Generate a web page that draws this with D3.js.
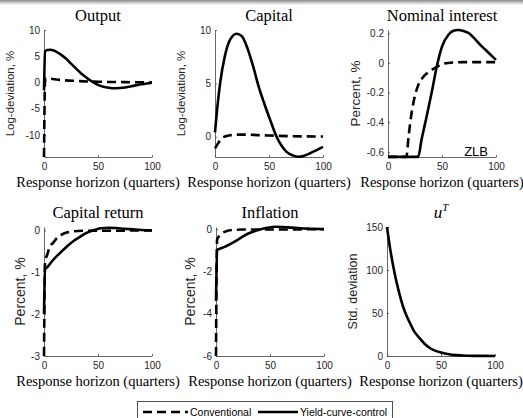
<!DOCTYPE html>
<html>
<head>
<meta charset="utf-8">
<script src="https://cdn.jsdelivr.net/npm/d3@7"></script>
<style>
  html, body { margin: 0; padding: 0; background: #fff; }
  svg { display: block; }
</style>
</head>
<body>
<svg id="chart" width="523" height="418"></svg>
<script>
// ---------- data ----------
const xTicks = [0, 50, 100];

// Output
const outYcc_t  = [0,1,3,6,9,12,15,20,25,30,35,40,45,50,55,60,65,70,75,80,85,90,95,100];
const outYcc    = [-1.5,5.9,6.2,6.25,6.1,5.8,5.4,4.6,3.6,2.6,1.6,0.8,0.1,-0.45,-0.8,-1.0,-1.1,-1.05,-0.95,-0.75,-0.55,-0.35,-0.18,-0.05];
const outConv_t = [0,1,2,4,7,10,15,20,30,40,50,60,70,80,90,100];
const outConv   = [-14.2,0.3,0.8,0.8,0.7,0.6,0.5,0.4,0.3,0.2,0.15,0.1,0.1,0.05,0.05,0.0];
const outTicks  = [-10,-5,0,5,10];

// Capital
const capYcc_t  = [0,2,5,9,14,20,25,30,35,41,46,51,57,62,66,72,77,82,88,94,100];
const capYcc    = [0.4,2.6,5.2,7.5,9.1,9.65,9.4,8.3,6.7,4.5,3.0,1.6,0.0,-0.9,-1.4,-1.75,-1.88,-1.8,-1.55,-1.25,-0.95];
const capConv_t = [0,3,6,10,15,20,30,40,55,70,85,100];
const capConv   = [-1.1,-0.6,-0.15,0.05,0.15,0.2,0.2,0.15,0.1,0.05,0.03,0.02];
const capTicks  = [0,5,10];

// Nominal interest
const nomYcc_t  = [0,28,31,34,37,41,45,50,56,60,65,70,75,80,85,90,95,100];
const nomYcc    = [-0.634,-0.634,-0.52,-0.42,-0.32,-0.18,-0.03,0.11,0.19,0.215,0.222,0.215,0.2,0.165,0.125,0.09,0.055,0.02];
const nomConv_t = [0,17,19,22,25,28,32,37,42,47,52,60,70,100];
const nomConv   = [-0.634,-0.634,-0.5,-0.33,-0.22,-0.15,-0.1,-0.065,-0.04,-0.02,-0.005,0.003,0.005,0.005];
const nomTicks  = [-0.6,-0.4,-0.2,0,0.2];

// Capital return
const crYcc_t   = [0,1,3,8,14,21,27,33,38,43,48,53,60,67,74,82,90,100];
const crYcc     = [-2.0,-0.92,-0.88,-0.72,-0.56,-0.39,-0.26,-0.16,-0.08,-0.02,0.02,0.05,0.06,0.055,0.04,0.025,0.01,0.0];
const crConv_t  = [0,1,3,5,9,13,18,23,28,35,45,60,80,100];
const crConv    = [-3,-0.75,-0.58,-0.42,-0.28,-0.16,-0.08,-0.04,-0.02,-0.01,-0.01,-0.01,-0.005,0];
const crTicks   = [-3,-2,-1,0];

// Inflation
const infYcc_t  = [0,1,4,8,12,16,21,25,30,35,40,44,49,55,62,70,78,87,100];
const infYcc    = [-3.4,-0.98,-0.92,-0.84,-0.74,-0.63,-0.48,-0.34,-0.21,-0.11,-0.03,0.03,0.08,0.11,0.1,0.07,0.04,0.02,0.0];
const infConv_t = [0,1,3,6,10,15,25,40,60,80,100];
const infConv   = [-6,-0.5,-0.32,-0.18,-0.09,-0.04,-0.02,-0.02,-0.02,-0.01,-0.005];
const infTicks  = [-6,-4,-2,0];

// u^T
const uT_t      = [0,3,6,9,12,15,18,21,25,30,35,40,45,50,60,70,80,90,100];
const uT        = [150,124,103,85,70,57,47,39,29,21,14,9,6,4,1.5,0.6,0.2,0.1,0];
const uTicks    = [0,50,100,150];

const legendLabels = ["Conventional", "Yield-curve-control"];

// ---------- layout ----------
const svg = d3.select("#chart");
const W = 108;
const panels = [
  {title:"Output", ylab:"Log-deviation, %", yls:11.5, x0:44, top:30, bot:157, dom:[-14.2,10], ticks:outTicks,
   ycc:[outYcc_t,outYcc], conv:[outConv_t,outConv], ylx:10},
  {title:"Capital", ylab:"Log-deviation, %", yls:11.5, x0:215, top:30, bot:157, dom:[-1.9,10], ticks:capTicks,
   ycc:[capYcc_t,capYcc], conv:[capConv_t,capConv], ylx:181},
  {title:"Nominal interest", ylab:"Percent, %", yls:13.5, x0:388, top:30, bot:157, dom:[-0.635,0.222], ticks:nomTicks,
   ycc:[nomYcc_t,nomYcc], conv:[nomConv_t,nomConv], ylx:355, zlb:true},
  {title:"Capital return", ylab:"Percent, %", yls:14, x0:44, top:227, bot:356, dom:[-3,0.08], ticks:crTicks,
   ycc:[crYcc_t,crYcc], conv:[crConv_t,crConv], ylx:20},
  {title:"Inflation", ylab:"Percent, %", yls:14, x0:216, top:227, bot:356, dom:[-6,0.1], ticks:infTicks,
   ycc:[infYcc_t,infYcc], conv:[infConv_t,infConv], ylx:190},
  {title:"uT", ylab:"Std. deviation", yls:12.5, x0:387, top:227, bot:356, dom:[0,150], ticks:uTicks,
   ycc:[uT_t,uT], conv:null, ylx:353}
];

// top shadow
const defs = svg.append("defs");
const gr = defs.append("linearGradient").attr("id","shade").attr("x1",0).attr("y1",0).attr("x2",0).attr("y2",1);
gr.append("stop").attr("offset","0%").attr("stop-color","#8a8a8a");
gr.append("stop").attr("offset","100%").attr("stop-color","#ffffff");
svg.append("rect").attr("x",0).attr("y",0).attr("width",523).attr("height",5).attr("fill","url(#shade)");

const axisColor = "#404040";
const tickFont = "'Liberation Sans', Arial, Helvetica, sans-serif";
const serif = "'Liberation Serif', 'Times New Roman', serif";

panels.forEach(p => {
  const x = d3.scaleLinear().domain([0,100]).range([p.x0, p.x0 + W]);
  const y = d3.scaleLinear().domain(p.dom).range([p.bot, p.top]);
  const g = svg.append("g");

  const xa = g.append("g").attr("transform", `translate(0,${p.bot})`)
    .call(d3.axisBottom(x).tickValues(xTicks).tickFormat(d3.format("d")).tickSize(-2).tickSizeOuter(0).tickPadding(6));
  const ya = g.append("g").attr("transform", `translate(${p.x0},0)`)
    .call(d3.axisLeft(y).tickValues(p.ticks).tickFormat(d => String(+d.toFixed(2))).tickSize(-2).tickSizeOuter(0).tickPadding(4));
  [xa, ya].forEach(a => {
    a.select(".domain").attr("stroke", axisColor).attr("stroke-width", 0.8);
    a.selectAll(".tick line").attr("stroke", axisColor).attr("stroke-width", 0.8);
    a.selectAll(".tick text").attr("fill", "#262626").attr("font-family", tickFont).attr("font-size", "10px");
  });

  const line = d3.line().x(d => x(d[0])).y(d => y(d[1])).curve(d3.curveMonotoneX);
  if (p.conv) {
    const pts = p.conv[0].map((t,i) => [t, p.conv[1][i]]);
    g.append("path").attr("d", line(pts)).attr("fill","none").attr("stroke","#000")
      .attr("stroke-width", 2.6).attr("stroke-dasharray","9,5");
  }
  const pts2 = p.ycc[0].map((t,i) => [t, p.ycc[1][i]]);
  g.append("path").attr("d", line(pts2)).attr("fill","none").attr("stroke","#000").attr("stroke-width", 2.6);

  // title
  const cx = p.x0 + W/2;
  const tt = g.append("text").attr("x", cx).attr("y", p.top - 9).attr("text-anchor","middle")
    .attr("font-family", serif).attr("font-size","16.5px").attr("fill","#000");
  if (p.title === "uT") {
    tt.append("tspan").attr("font-style","italic").attr("font-size","17px").text("u");
    tt.append("tspan").attr("font-style","italic").attr("font-size","11px").attr("dy",-7).text("T");
  } else {
    tt.text(p.title);
  }
  // x label
  g.append("text").attr("x", cx).attr("y", p.bot + 30).attr("text-anchor","middle")
    .attr("font-family", serif).attr("font-size","14.5px").attr("fill","#000").text("Response horizon (quarters)");
  // y label
  const cy = (p.top + p.bot) / 2;
  g.append("text").attr("transform", `translate(${p.ylx + p.yls*0.35},${cy}) rotate(-90)`).attr("text-anchor","middle")
    .attr("font-family", tickFont).attr("font-size", p.yls + "px").attr("fill","#262626").text(p.ylab);

  if (p.zlb) {
    g.append("text").attr("x", p.x0 + 100).attr("y", p.bot - 1).attr("text-anchor","end")
      .attr("font-family", tickFont).attr("font-size","13px").attr("fill","#000").text("ZLB");
  }
});

// legend
const lg = svg.append("g");
lg.append("rect").attr("x",137.5).attr("y",401.5).attr("width",255).attr("height",30)
  .attr("fill","#fff").attr("stroke","#262626").attr("stroke-width",0.8);
const legX = d3.scaleOrdinal().domain(legendLabels).range([143, 258]);
const legW = d3.scaleOrdinal().domain(legendLabels).range([45, 40]);
legendLabels.forEach((lab, i) => {
  const x0 = legX(lab);
  lg.append("line").attr("x1", x0).attr("x2", x0 + legW(lab)).attr("y1", 412).attr("y2", 412)
    .attr("stroke","#000").attr("stroke-width",2.6).attr("stroke-dasharray", i === 0 ? "9,5" : null);
  lg.append("text").attr("x", x0 + legW(lab) + 2).attr("y", 416).attr("font-family", tickFont)
    .attr("font-size","10.5px").attr("fill","#000").text(lab);
});
</script>
</body>
</html>
